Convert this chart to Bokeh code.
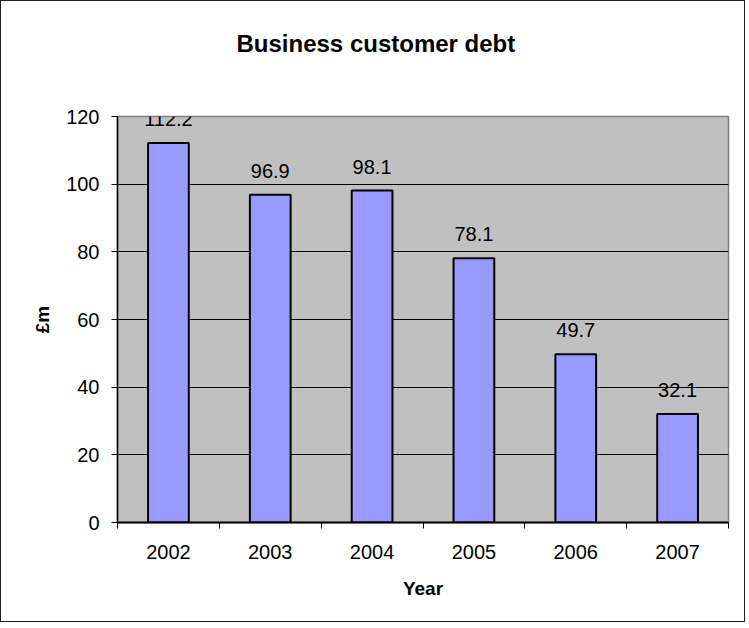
from bokeh.plotting import figure
from bokeh.models import Range1d, FixedTicker, ColumnDataSource, LabelSet, Title
from bokeh.core.properties import value
from bokeh.embed import file_html
from bokeh.resources import INLINE

# ---- data ----
years = ["2002", "2003", "2004", "2005", "2006", "2007"]
debt = [112.2, 96.9, 98.1, 78.1, 49.7, 32.1]
y_ticks = [0, 20, 40, 60, 80, 100, 120]
title_text = "Business customer debt"

FONT = "Liberation Sans"

xs = [i + 0.5 for i in range(len(years))]
src = ColumnDataSource(dict(x=xs, top=debt, label=[f"{v:.1f}" for v in debt]))

p = figure(width=745, height=622, output_backend="svg", toolbar_location=None,
           x_range=Range1d(0, len(years)), y_range=Range1d(0, 120),
           min_border_left=116, min_border_right=18,
           min_border_top=115, min_border_bottom=101,
           title=None)
p.styles = {"border": "1px solid #222222"}

# spacer between plot area and title, then the real title
p.add_layout(Title(text=" ", text_font_size="1px", standoff=52), "above")
p.add_layout(Title(text=title_text, align="left", offset=119,
                   text_font=FONT, text_font_size="24px",
                   text_font_style="bold", text_color="black",
                   standoff=10), "above")

p.background_fill_color = "#C0C0C0"
p.border_fill_color = "white"
p.outline_line_color = "#808080"
p.outline_line_width = 1.5

p.vbar(x="x", top="top", width=0.4, source=src, fill_color="#9999FF",
       line_color="black", line_width=2)

labels = LabelSet(x="x", y="top", text="label", source=src, text_align="center",
                  text_baseline="alphabetic", y_offset=17,
                  text_font=value(FONT), text_font_size=value("20px"),
                  text_color="black")
p.add_layout(labels)

# y axis
p.yaxis.ticker = FixedTicker(ticks=y_ticks)
p.yaxis.major_tick_out = 6
p.yaxis.major_tick_in = 0
p.yaxis.minor_tick_line_color = None
p.yaxis.axis_line_color = "black"
p.yaxis.axis_line_width = 1.5
p.yaxis.major_label_text_font = FONT
p.yaxis.major_label_text_font_size = "20px"
p.yaxis.major_label_text_color = "black"
p.yaxis.major_label_standoff = 12
p.yaxis.axis_label = "£m"
p.yaxis.axis_label_text_font = FONT
p.yaxis.axis_label_text_font_size = "19px"
p.yaxis.axis_label_text_font_style = "bold"
p.yaxis.axis_label_text_color = "black"
p.yaxis.axis_label_standoff = 10

# x axis: labels at centers, ticks at category boundaries
p.xaxis.ticker = FixedTicker(ticks=xs, minor_ticks=list(range(len(years) + 1)))
p.xaxis.major_label_overrides = {x: y for x, y in zip(xs, years)}
p.xaxis.major_tick_out = 0
p.xaxis.major_tick_in = 0
p.xaxis.minor_tick_out = 6
p.xaxis.minor_tick_in = 0
p.xaxis.minor_tick_line_color = "black"
p.xaxis.axis_line_color = "black"
p.xaxis.axis_line_width = 2
p.xaxis.major_label_text_font = FONT
p.xaxis.major_label_text_font_size = "20px"
p.xaxis.major_label_text_color = "black"
p.xaxis.major_label_standoff = 16
p.xaxis.axis_label = "Year"
p.xaxis.axis_label_text_font = FONT
p.xaxis.axis_label_text_font_size = "19px"
p.xaxis.axis_label_text_font_style = "bold"
p.xaxis.axis_label_text_color = "black"
p.xaxis.axis_label_standoff = 16

p.xgrid.grid_line_color = None
p.ygrid.grid_line_color = "black"
p.ygrid.grid_line_width = 1

open("out.html", "w").write(file_html(p, INLINE))
